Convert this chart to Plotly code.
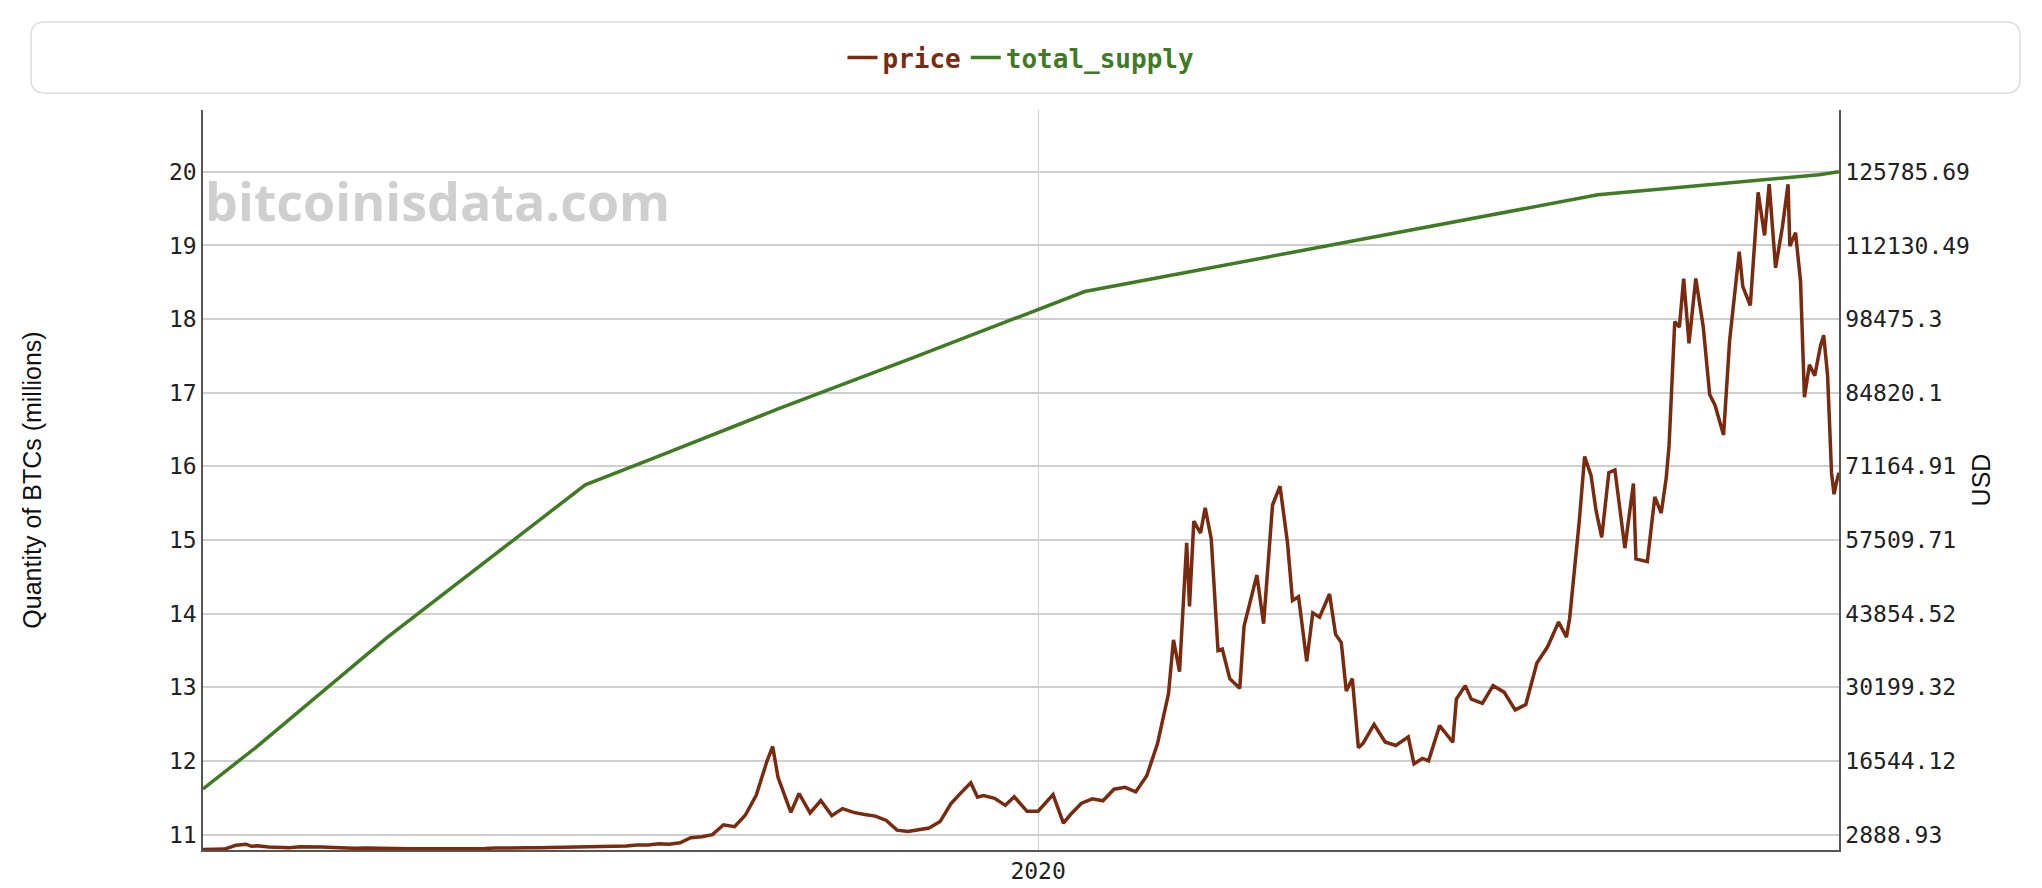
import plotly.graph_objects as go

# -------------------------
# Data
# -------------------------
PRICE_DATES = [
    "2013-08-01", "2013-09-01", "2013-10-01", "2013-11-01", "2013-11-30", "2013-12-15",
    "2014-01-01", "2014-02-01", "2014-03-01", "2014-04-01", "2014-05-01", "2014-06-01",
    "2014-07-01", "2014-08-01", "2014-09-01", "2014-10-01", "2014-11-01", "2014-12-01",
    "2015-01-01", "2015-02-01", "2015-03-01", "2015-04-01", "2015-05-01", "2015-06-01",
    "2015-07-01", "2015-08-01", "2015-09-01", "2015-10-01", "2015-11-01", "2015-12-01",
    "2016-01-01", "2016-02-01", "2016-03-01", "2016-04-01", "2016-05-01", "2016-06-01",
    "2016-07-01", "2016-08-01", "2016-09-01", "2016-10-01", "2016-11-01", "2016-12-01",
    "2017-01-01", "2017-02-01", "2017-03-01", "2017-04-01", "2017-05-01", "2017-06-01",
    "2017-07-01", "2017-08-01", "2017-09-01", "2017-10-01", "2017-11-01", "2017-12-01",
    "2017-12-17", "2018-01-01", "2018-01-15", "2018-02-06", "2018-03-01", "2018-04-01",
    "2018-05-01", "2018-06-01", "2018-07-01", "2018-08-01", "2018-09-01", "2018-10-01",
    "2018-11-01", "2018-12-01", "2019-01-01", "2019-02-01", "2019-03-01", "2019-04-01",
    "2019-05-01", "2019-06-01", "2019-06-26", "2019-07-15", "2019-08-01", "2019-09-01",
    "2019-10-01", "2019-10-26", "2019-11-15", "2019-12-01", "2020-01-01", "2020-02-12",
    "2020-03-12", "2020-04-01", "2020-05-01", "2020-06-01", "2020-07-01", "2020-08-01",
    "2020-09-01", "2020-10-01", "2020-11-01", "2020-12-01", "2021-01-01", "2021-01-15",
    "2021-02-01", "2021-02-21", "2021-03-01", "2021-03-13", "2021-04-01", "2021-04-14",
    "2021-05-01", "2021-05-20", "2021-06-01", "2021-06-22", "2021-07-20", "2021-08-01",
    "2021-09-06", "2021-09-25", "2021-10-20", "2021-11-10", "2021-12-01", "2021-12-15",
    "2022-01-01", "2022-01-24", "2022-02-10", "2022-03-01", "2022-03-29", "2022-04-15",
    "2022-05-01", "2022-05-15", "2022-06-01", "2022-06-18", "2022-07-01", "2022-08-01",
    "2022-09-01", "2022-10-01", "2022-11-05", "2022-11-21", "2022-12-15", "2023-01-01",
    "2023-02-01", "2023-03-10", "2023-03-20", "2023-04-14", "2023-05-01", "2023-06-01",
    "2023-07-01", "2023-08-01", "2023-09-01", "2023-10-01", "2023-11-01", "2023-12-01",
    "2024-01-01", "2024-01-23", "2024-02-01", "2024-02-28", "2024-03-14", "2024-04-01",
    "2024-04-15", "2024-05-01", "2024-05-21", "2024-06-07", "2024-07-05", "2024-07-29",
    "2024-08-05", "2024-09-06", "2024-09-27", "2024-10-15", "2024-10-29", "2024-11-06",
    "2024-11-22", "2024-12-05", "2024-12-17", "2025-01-01", "2025-01-20", "2025-02-10",
    "2025-02-28", "2025-03-15", "2025-04-08", "2025-04-25", "2025-05-22", "2025-06-01",
    "2025-06-22", "2025-07-14", "2025-08-01", "2025-08-14", "2025-09-01", "2025-09-20",
    "2025-10-06", "2025-10-11", "2025-10-27", "2025-11-10", "2025-11-21", "2025-12-05",
    "2025-12-20", "2026-01-05", "2026-01-14", "2026-01-25", "2026-02-05", "2026-02-12",
    "2026-02-20", "2026-02-26",
]
PRICE_USD = [
    100, 130, 200, 900, 1100, 700,
    800, 600, 450, 440, 630, 640,
    590, 480, 390, 340, 380, 320,
    220, 255, 245, 235, 230, 265,
    285, 230, 236, 315, 380, 430,
    370, 437, 416, 448, 530, 670,
    625, 575, 610, 700, 745, 960,
    970, 1190, 1080, 1350, 2300, 2480,
    2870, 4700, 4340, 6470, 10200, 16500,
    19200, 13500, 11000, 7000, 10500, 6900,
    9200, 6400, 7700, 7000, 6600, 6300,
    5500, 3700, 3450, 3850, 4100, 5300,
    8600, 10800, 12500, 9800, 10100, 9600,
    8300, 9900, 8500, 7200, 7200, 10300,
    5000, 6600, 8650, 9500, 9150, 11300,
    11650, 10800, 13800, 19700, 29000, 39000,
    33100, 57000, 45200, 61000, 58800, 63500,
    57700, 37000, 37300, 31800, 30000, 41500,
    51000, 42000, 64000, 67500, 57000, 46300,
    47000, 35000, 44000, 43200, 47500, 40000,
    38500, 29500, 31800, 19000, 19800, 23300,
    20050, 19400, 21000, 16000, 17000, 16550,
    23100, 20000, 28000, 30500, 28000, 27200,
    30500, 29300, 26000, 27000, 34700, 37700,
    42300, 39500, 43000, 61000, 73000, 69500,
    63000, 58000, 70000, 70500, 56000, 68000,
    54000, 53500, 65500, 62500, 69000, 75000,
    98000, 97000, 106000, 94000, 106000, 97000,
    84500, 82500, 77000, 94500, 111000, 104500,
    101000, 122000, 114000, 123500, 108000, 115500,
    123500, 112000, 114500, 105500, 84000, 90000,
    88000, 93500, 95500, 88000, 70000, 66000,
    68500, 70000,
]

SUPPLY_DATES = [
    "2013-08-01", "2014-01-01", "2015-01-01", "2016-01-01", "2016-07-09",
    "2017-01-01", "2018-01-01", "2019-01-01", "2020-01-01", "2020-05-11",
    "2021-01-01", "2022-01-01", "2023-01-01", "2024-01-01", "2024-04-20",
    "2025-01-01", "2026-01-01", "2026-02-26",
]
SUPPLY_M = [
    11.62, 12.20, 13.68, 15.05, 15.75,
    16.08, 16.78, 17.45, 18.13, 18.375,
    18.59, 18.92, 19.25, 19.59, 19.6875,
    19.80, 19.96, 20.00,
]

LEFT_TICKS = [11, 12, 13, 14, 15, 16, 17, 18, 19, 20]
RIGHT_TICKS = [2888.93, 16544.12, 30199.32, 43854.52, 57509.71,
               71164.91, 84820.1, 98475.3, 112130.49, 125785.69]
RIGHT_LABELS = ["2888.93", "16544.12", "30199.32", "43854.52", "57509.71",
                "71164.91", "84820.1", "98475.3", "112130.49", "125785.69"]

PRICE_COLOR = "#7a2a0e"
SUPPLY_COLOR = "#3f7b22"
MONO = "DejaVu Sans Mono, monospace"

W, H = 2042, 888
ML, MR, MT, MB = 195, 211, 102, 38


def main():
    fig = go.Figure()

    fig.add_trace(go.Scatter(
        x=PRICE_DATES, y=PRICE_USD, yaxis="y2", mode="lines",
        name=f"<b><span style='color:{PRICE_COLOR}'>price</span></b>",
        line=dict(color=PRICE_COLOR, width=3.5),
    ))
    fig.add_trace(go.Scatter(
        x=SUPPLY_DATES, y=SUPPLY_M, mode="lines",
        name=f"<b><span style='color:{SUPPLY_COLOR}'>total_supply</span></b>",
        line=dict(color=SUPPLY_COLOR, width=3.5),
    ))

    # right axis aligned to the left one
    lo, hi = 10.79, 20.84
    step = RIGHT_TICKS[1] - RIGHT_TICKS[0]
    r_lo = RIGHT_TICKS[0] + (lo - 11) * step
    r_hi = RIGHT_TICKS[0] + (hi - 11) * step

    # rounded legend box (paper coords)
    pw, ph = W - ML - MR, H - MT - MB
    def px(x): return (x - ML) / pw
    def py(y): return (H - MB - y) / ph
    x0, x1, y0, y1 = px(23), px(2012), py(85), py(13)
    rx, ry = 14 / pw, 14 / ph
    path = (f"M {x0+rx},{y0} L {x1-rx},{y0} Q {x1},{y0} {x1},{y0+ry} "
            f"L {x1},{y1-ry} Q {x1},{y1} {x1-rx},{y1} L {x0+rx},{y1} "
            f"Q {x0},{y1} {x0},{y1-ry} L {x0},{y0+ry} Q {x0},{y0} {x0+rx},{y0} Z")

    tick_font = dict(family=MONO, size=23, color="#222")
    title_font = dict(family="Liberation Sans, Arial", size=25, color="#111")

    fig.update_layout(
        width=W, height=H,
        margin=dict(l=ML, r=MR, t=MT, b=MB),
        plot_bgcolor="white", paper_bgcolor="white",
        showlegend=True,
        legend=dict(orientation="h", x=0.5, xanchor="center", y=py(49), yanchor="middle",
                    font=dict(family=MONO, size=26), itemwidth=30, tracegroupgap=0),
        xaxis=dict(
            type="date", range=["2013-08-01", "2026-02-26"],
            tickvals=["2020-01-01"], ticktext=["2020"],
            showgrid=True, gridcolor="#d0d0d0", gridwidth=1,
            showline=True, linecolor="#555", linewidth=1.5,
            tickfont=tick_font, ticks="",
        ),
        yaxis=dict(
            range=[lo, hi], tickvals=LEFT_TICKS,
            showgrid=True, gridcolor="#cfcfcf", gridwidth=1.5, zeroline=False,
            showline=True, linecolor="#555", linewidth=1.5,
            tickfont=tick_font, ticks="",
            title=dict(text="Quantity of BTCs (millions)", standoff=120, font=title_font),
        ),
        yaxis2=dict(
            overlaying="y", side="right", range=[r_lo, r_hi],
            tickvals=RIGHT_TICKS, ticktext=RIGHT_LABELS,
            showgrid=False, zeroline=False,
            showline=True, linecolor="#555", linewidth=1.5,
            tickfont=tick_font, ticks="",
            title=dict(text="USD", standoff=4, font=title_font),
        ),
        shapes=[dict(type="path", path=path, xref="paper", yref="paper",
                     line=dict(color="#dcdcdc", width=1.5), fillcolor="rgba(0,0,0,0)")],
        annotations=[dict(
            text="<b>bitcoinisdata.com</b>", x=0, y=py(193), xref="paper", yref="paper",
            xanchor="left", yanchor="middle", showarrow=False,
            font=dict(family="Open Sans, sans-serif", size=52, color="rgba(160,160,160,0.5)"),
        )],
    )

    fig.write_html("out.html")


if __name__ == "__main__":
    main()
